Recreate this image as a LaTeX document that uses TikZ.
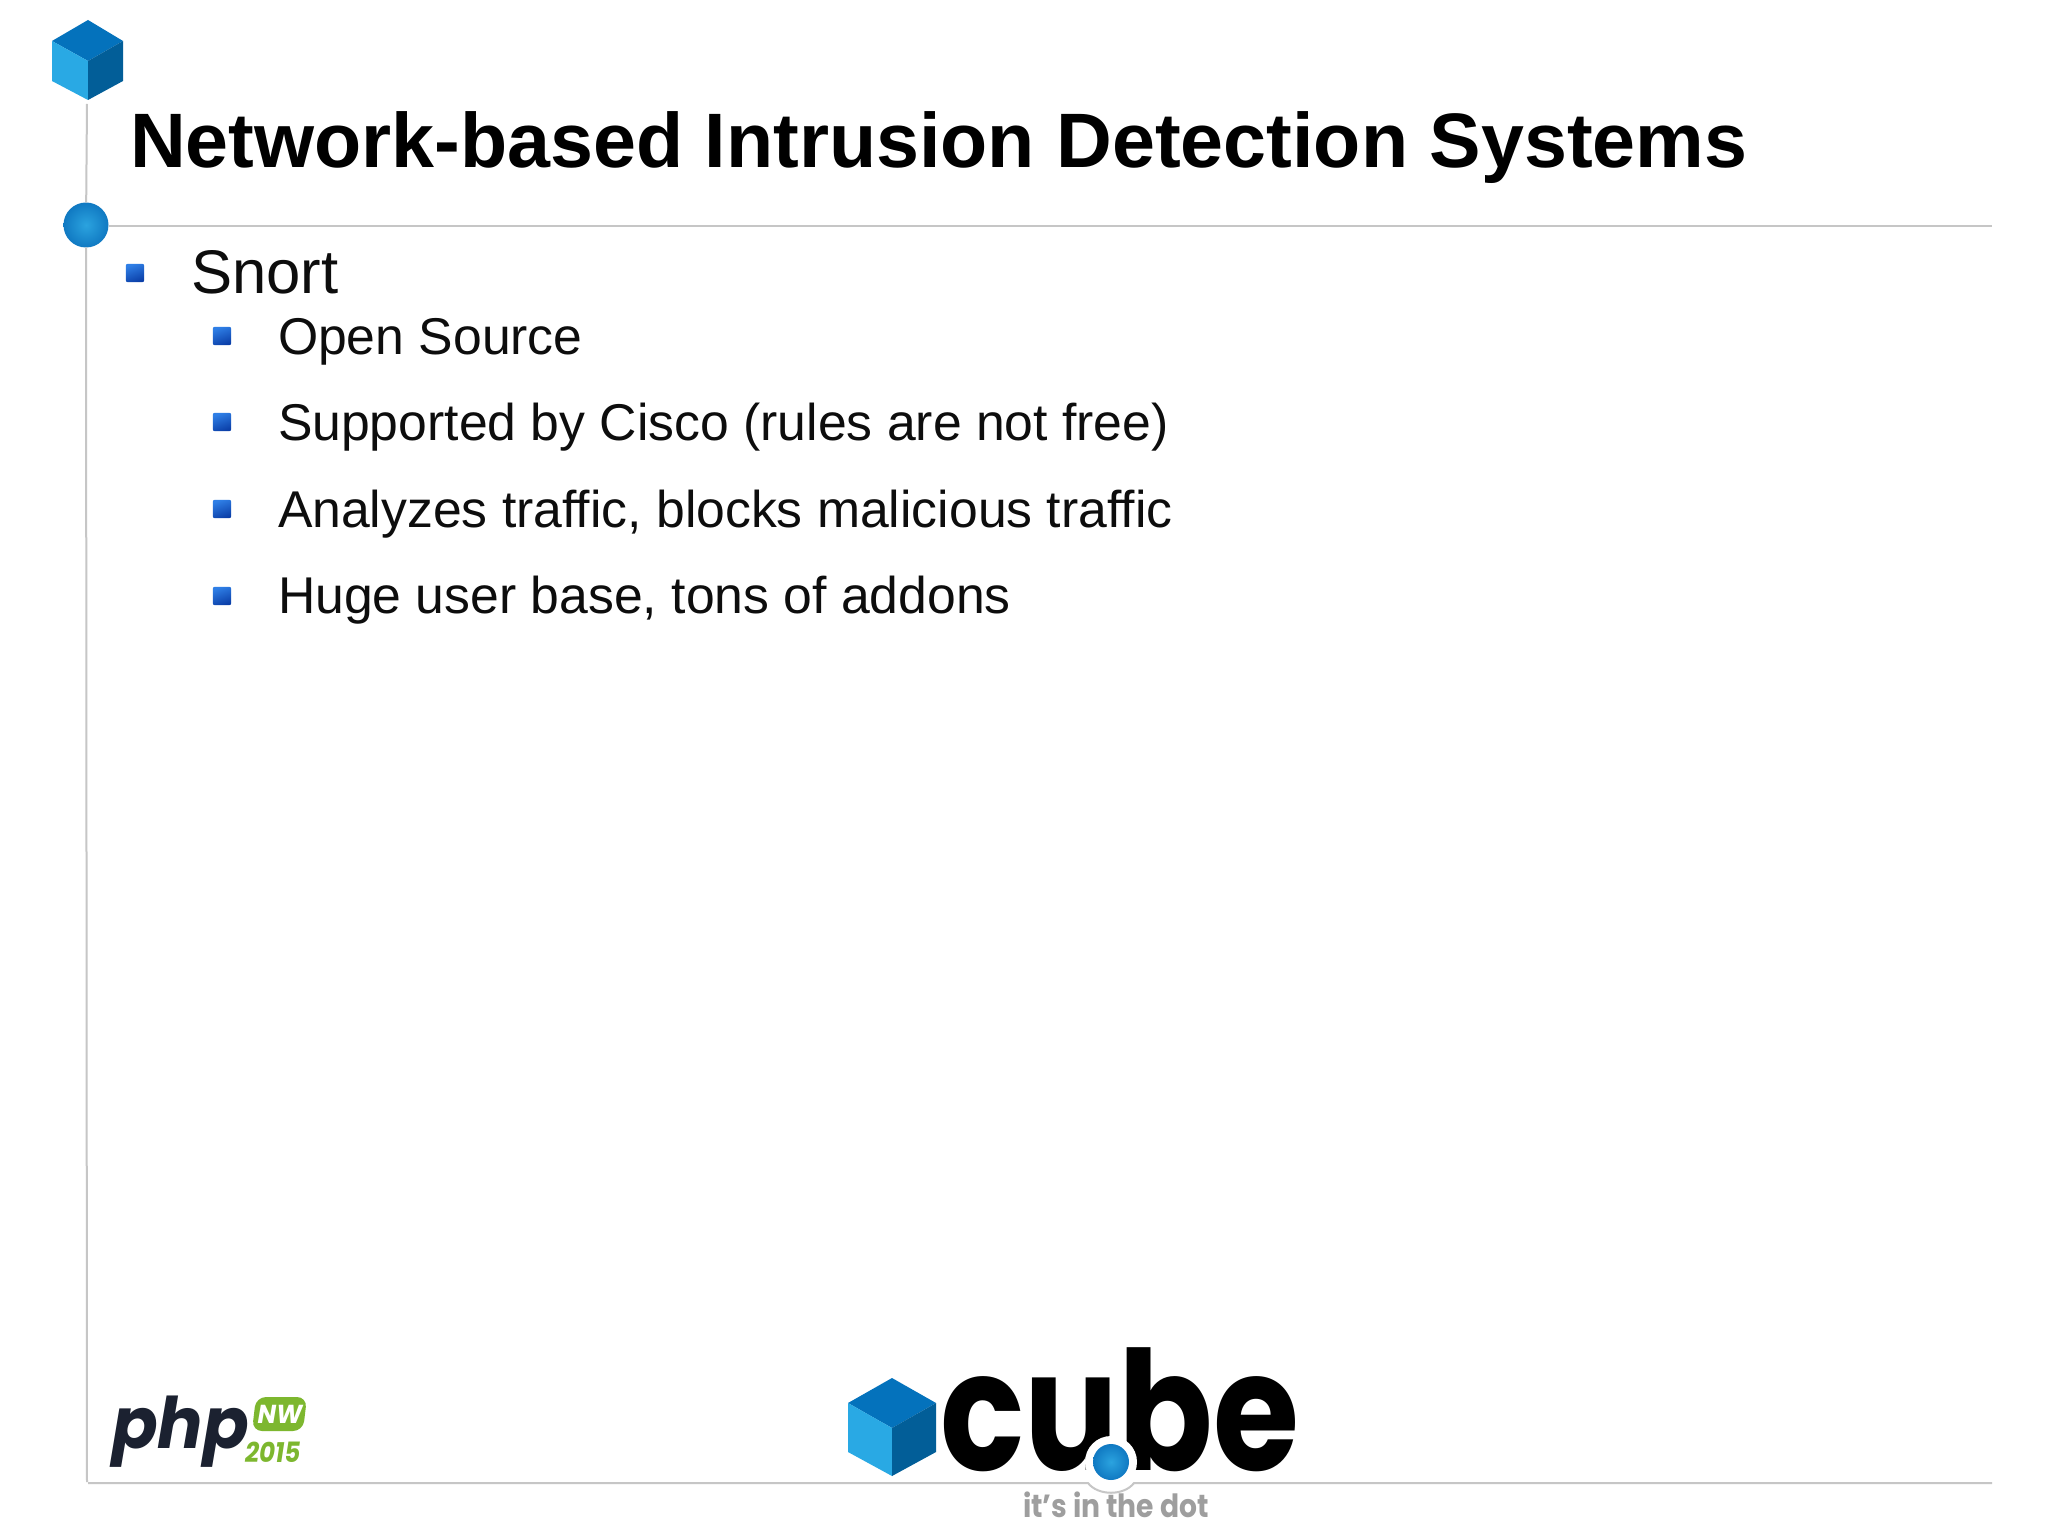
\documentclass[tikz,border=0pt]{standalone}
\usepackage{fontspec}
\setmainfont{Liberation Sans}
\newfontfamily\logofont{Poppins}
\definecolor{rulegray}{HTML}{C6C6C6}
\definecolor{cubelight}{HTML}{29A9E4}
\definecolor{cubemid}{HTML}{0472BC}
\definecolor{cubedark}{HTML}{025E98}
\definecolor{phpnavy}{HTML}{1B2130}
\definecolor{phpgreen}{HTML}{7DB72F}
\definecolor{bulletlight}{HTML}{2F7FE6}
\definecolor{bulletdark}{HTML}{0B3FA8}
\definecolor{ballin}{HTML}{2BA3DF}
\definecolor{ballout}{HTML}{1079C2}
\tikzset{
  x=0.5pt,y=-0.5pt,
  txt/.style={anchor=base west,inner sep=0pt,outer sep=0pt},
  titletext/.style={txt,font=\fontsize{38.6pt}{44pt}\selectfont\bfseries,text=black},
  leveltwo/.style={txt,font=\fontsize{25.85pt}{30pt}\selectfont,text=black!95},
  levelone/.style={txt,font=\fontsize{30.8pt}{36pt}\selectfont,text=black!95},
  bulletbox/.style={minimum size=9.2pt,inner sep=0pt,rounded corners=1pt,shading=axis,
    top color=bulletlight,bottom color=bulletdark,shading angle=20},
  rulestyle/.style={draw=rulegray,line width=1pt},
  ball/.style={circle,inner sep=0pt,outer sep=0pt,inner color=ballin,outer color=ballout},
}
\begin{document}
\begin{tikzpicture}
\useasboundingbox (0,0) rectangle (2048,1535);
\fill[white] (0,0) rectangle (2048,1535);
% frame rules
\coordinate (railtop) at (87,104);
\coordinate (railbot) at (87,1482);
\coordinate (headend) at (1992,226.5);
\coordinate (footend) at (1992,1483);
\coordinate (footstart) at (88,1483);
\coordinate (dipL) at (1088,1483);
\coordinate (dipR) at (1134,1483);
\node[ball,minimum size=22.5pt] (headball) at (86,225) {};
\draw[rulestyle] (railtop) -- (headball);
\draw[rulestyle] (headball) -- (railbot);
\draw[rulestyle] (headball.east |- headend) -- (headend);
% top cube
\fill[cubemid] (88,20) -- (123,41) -- (88,61) -- (52,41) -- cycle;
\fill[cubelight] (52,41) -- (88,61) -- (88,100) -- (52,81) -- cycle;
\fill[cubedark] (123,41) -- (88,61) -- (88,100) -- (123,81) -- cycle;
% texts
\node[titletext] (title) at (130,167.5) {Network-based Intrusion Detection Systems};
\node[levelone] (snort) at (191,294) {Snort};
\node[leveltwo] (l1) at (278,354) {Open Source};
\node[leveltwo] (l2) at (278,440) {Supported by Cisco (rules are not free)};
\node[leveltwo] (l3) at (278,527) {Analyzes traffic, blocks malicious traffic};
\node[leveltwo] (l4) at (278,613) {Huge user base, tons of addons};
\node[bulletbox] (b0) at (135,273) {};
\node[bulletbox] (b1) at (222,336) {};
\node[bulletbox] (b2) at (222,422) {};
\node[bulletbox] (b3) at (222,509) {};
\node[bulletbox] (b4) at (222,596) {};
% php logo
\node[txt,font=\logofont\fontsize{35.5pt}{40pt}\selectfont\bfseries\itshape,text=phpnavy] (php) at (112,1448) {\scalebox{0.95}[1]{php}};
\fill[phpgreen,rounded corners=5pt] (256,1397) -- (307,1397) -- (303,1431) -- (252,1431) -- cycle;
\node[font=\logofont\fontsize{13pt}{14pt}\selectfont\bfseries\itshape,text=white,inner sep=0pt] (nw) at (280,1414) {\scalebox{0.95}[1]{NW}};
\node[txt,font=\logofont\fontsize{14pt}{16pt}\selectfont\bfseries\itshape,text=phpgreen] (year) at (245,1462) {\scalebox{0.88}[1]{2015}};
% cube logo
\fill[cubemid] (892,1378) -- (936,1403) -- (892,1428) -- (848,1403) -- cycle;
\fill[cubelight] (848,1403) -- (892,1428) -- (892,1476) -- (848,1452) -- cycle;
\fill[cubedark] (936,1403) -- (892,1428) -- (892,1476) -- (936,1452) -- cycle;
\node[txt,font=\logofont\fontsize{83pt}{90pt}\selectfont\bfseries,text=black] (cube) at (940,1470) {\scalebox{0.84}[1]{cube}};
\node[circle,fill=white,minimum size=26pt,inner sep=0pt] (halo) at (1111,1462) {};
\draw[rulestyle] (footstart) -- (dipL) .. controls (1098,1496) and (1124,1496) .. (dipR) -- (footend);
\node[ball,minimum size=18pt] (dot) at (1111,1462) {};
\node[txt,font=\logofont\fontsize{16pt}{18pt}\selectfont\bfseries,text=black!38] (tag) at (1023,1517) {\scalebox{0.88}[1]{it’s in the dot}};
\end{tikzpicture}
\end{document}
